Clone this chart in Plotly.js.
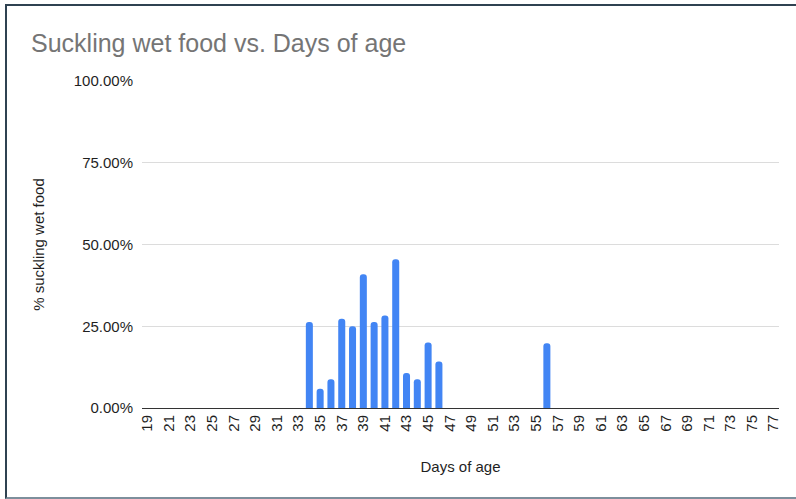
<!DOCTYPE html>
<html>
<head>
<meta charset="utf-8">
<script src="https://cdn.plot.ly/plotly-3.0.1.min.js"></script>
<style>
  html, body { margin: 0; padding: 0; background: #ffffff; }
  #wrap { position: relative; width: 796px; height: 499px; overflow: hidden; }
  #chart { position: absolute; left: 0; top: 0; width: 796px; height: 499px; }
  #frame { position: absolute; left: 5px; top: 4px; right: -10px; bottom: 0px;
           border-top: 2px solid #2f4251; border-left: 2px solid #2f4251;
           border-bottom: 2px solid #7d8f9c; pointer-events: none; }
</style>
</head>
<body>
<div id="wrap">
  <div id="chart"></div>
  <div id="frame"></div>
</div>
<script>
const days = [34, 35, 36, 37, 38, 39, 40, 41, 42, 43, 44, 45, 46, 56];
const pctSuckling = [26.3, 5.9, 8.8, 27.3, 25.0, 40.9, 26.3, 28.3, 45.5, 10.7, 8.8, 20.0, 14.2, 19.8];
const dayTicks = [19, 21, 23, 25, 27, 29, 31, 33, 35, 37, 39, 41, 43, 45, 47, 49, 51, 53, 55, 57, 59, 61, 63, 65, 67, 69, 71, 73, 75, 77];
const pctTicks = [0, 25, 50, 75, 100];
const pctTickLabels = ["0.00%", "25.00%", "50.00%", "75.00%", "100.00%"];

const trace = {
  type: 'bar',
  x: days,
  y: pctSuckling,
  marker: { color: '#4285f4', cornerradius: 3 },
  hoverinfo: 'x+y'
};

const FAM = 'Liberation Sans, Arial, sans-serif';
const TXT = '#1f1f1f';

const layout = {
  width: 796,
  height: 499,
  margin: { l: 142, r: 17, t: 81, b: 91 },
  paper_bgcolor: '#ffffff',
  plot_bgcolor: '#ffffff',
  font: { family: FAM, color: TXT, size: 15 },
  showlegend: false,
  bargap: 0.35,
  title: {
    text: 'Suckling wet food vs. Days of age',
    font: { family: FAM, size: 25, color: '#757575' },
    xref: 'container', x: 31 / 796, xanchor: 'left',
    yref: 'container', y: 1 - 43 / 499, yanchor: 'middle'
  },
  xaxis: {
    range: [18.5, 77.5],
    tickmode: 'array',
    tickvals: dayTicks,
    ticktext: dayTicks.map(String),
    tickangle: -90,
    tickfont: { family: FAM, size: 15, color: TXT },
    showgrid: false,
    zeroline: false,
    showline: true,
    linecolor: '#333333',
    linewidth: 1,
    ticks: '',
    automargin: false,
    title: {
      text: 'Days of age',
      font: { family: FAM, size: 15, color: TXT },
      standoff: 30
    }
  },
  yaxis: {
    range: [0, 100],
    tickmode: 'array',
    tickvals: pctTicks,
    ticktext: pctTickLabels,
    tickfont: { family: FAM, size: 15, color: TXT },
    showgrid: true,
    gridcolor: '#dcdcdc',
    gridwidth: 1,
    zeroline: false,
    showline: false,
    ticks: '',
    ticklabelstandoff: 8,
    automargin: false,
    title: {
      text: '% suckling wet food',
      font: { family: FAM, size: 15, color: TXT },
      standoff: 25
    }
  }
};

Plotly.newPlot('chart', [trace], layout, { displayModeBar: false, staticPlot: true });
</script>
</body>
</html>
